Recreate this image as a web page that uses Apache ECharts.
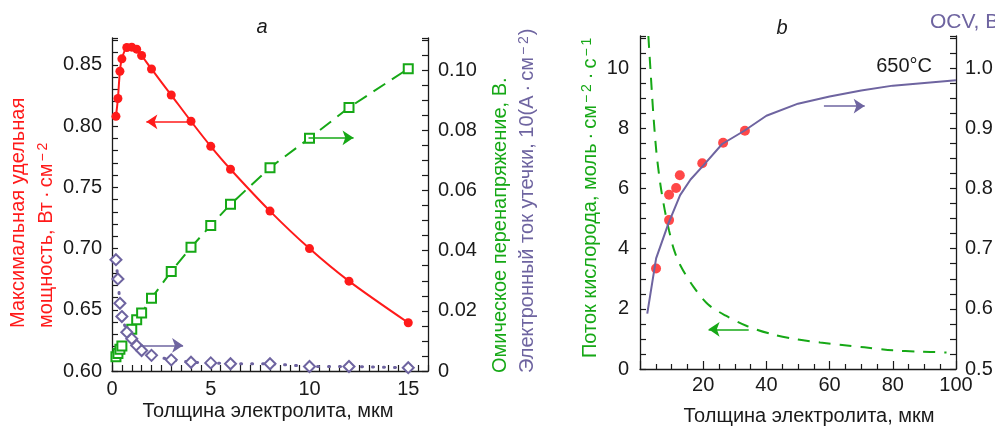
<!DOCTYPE html>
<html><head><meta charset="utf-8">
<script src="https://cdn.jsdelivr.net/npm/echarts@6/dist/echarts.min.js"></script>
<style>html,body{margin:0;padding:0;background:#fff}#c{width:995px;height:427px}</style>
</head><body><div id="c"></div>
<script>
// ---------- Panel a data ----------
const powerThickness = [0.2,0.3,0.4,0.5,0.75,1.0,1.25,1.5,2,3,4,5,6,8,10,12,15];
const maxPower       = [0.808,0.8226,0.8448,0.855,0.8642,0.8645,0.8629,0.8577,0.8467,0.8254,0.804,0.7835,0.7648,0.7306,0.700,0.6734,0.6394];
const ohmicThickness = [0.2,0.3,0.4,0.5,1.0,1.25,1.5,2,3,4,5,6,8,10,12,15];
const ohmicOverpot   = [0.0047,0.0058,0.0072,0.0083,0.0139,0.0170,0.0193,0.0242,0.0331,0.0411,0.0484,0.0554,0.0676,0.0774,0.0876,0.1005];
const leakThickness  = [0.2,0.3,0.4,0.5,0.75,1.0,1.25,1.5,2,3,4,5,6,8,10,12,15];
const leakCurrent    = [0.037,0.0306,0.0225,0.0181,0.0129,0.0107,0.0085,0.0068,0.0052,0.0037,0.0029,0.0027,0.0024,0.0024,0.0015,0.0015,0.0011];
// ---------- Panel b data ----------
const fluxThickness  = [2.65,3.4,4.2,5.2,6.5,7.8,9.2,10.8,13,17,21.5,27,34,42,50,57,64,71,80,88,97];
const oxygenFlux     = [11.07,9.8,8.5,7.2,6.1,5.3,4.6,3.95,3.4,2.72,2.15,1.78,1.42,1.15,0.98,0.88,0.8,0.72,0.62,0.58,0.55];
const ocvThickness   = [2.3,5.1,9.0,12.7,16,20,26,33,40,50,60,70,80,100];
const ocvCurve       = [0.592,0.684,0.742,0.789,0.815,0.838,0.874,0.896,0.921,0.941,0.953,0.963,0.971,0.980];
const ocvExpThick    = [5.08,9.2,9.2,11.43,12.6,19.7,26.3,33.2];
const ocvExp         = [0.667,0.7475,0.7895,0.801,0.822,0.842,0.876,0.896];
// ---------- Tick labels ----------
const powerTicks = [0.60,0.65,0.70,0.75,0.80,0.85];
const powerTickLabels = ['0.60','0.65','0.70','0.75','0.80','0.85'];
const rightATicks = [0,0.02,0.04,0.06,0.08,0.10];
const rightATickLabels = ['0','0.02','0.04','0.06','0.08','0.10'];
const xATicks = [0,5,10,15];
const xATickLabels = ['0','5','10','15'];
const xBTicks = [20,40,60,80,100];
const xBTickLabels = ['20','40','60','80','100'];
const fluxTicks = [0,2,4,6,8,10];
const fluxTickLabels = ['0','2','4','6','8','10'];
const ocvTicks = [0.5,0.6,0.7,0.8,0.9,1.0];
const ocvTickLabels = ['0.5','0.6','0.7','0.8','0.9','1.0'];
// ---------- Annotation arrows (data coords) ----------
const arrowPower = [[4.04,0.8035],[1.74,0.8035]];
const arrowOhmic = [[9.95,0.0775],[12.23,0.0775]];
const arrowLeak  = [[1.43,0.0085],[3.6,0.0085]];
const arrowFlux  = [[34.4,1.32],[21.7,1.32]];
const arrowOcv   = [[58.2,0.937],[71.1,0.937]];

const RED='#ff1a1a', GREEN='#16a816', PURPLE='#6e64a0', BLACK='#1a1a1a';
const FONT='"Liberation Sans", Arial, sans-serif';
const zip=(a,b)=>a.map((v,i)=>[v,b[i]]);
const fmt=(t,l)=>v=>{for(let i=0;i<t.length;i++){if(Math.abs(v-t[i])<1e-6)return l[i];}return '';};
const axisLine={lineStyle:{color:BLACK,width:1.3}};
const lbl=(f,m)=>({formatter:f,margin:m,fontSize:20,color:BLACK,fontFamily:FONT});
const tick=(len)=>({inside:true,length:len,lineStyle:{color:BLACK,width:1.2}});
const arrowML=(pts,color,sz)=>({silent:true,symbol:['none','arrow'],symbolSize:sz||11,label:{show:false},
  lineStyle:{color:color,width:1.5,type:'solid'},emphasis:{disabled:true},animation:false,
  data:[[{coord:pts[0]},{coord:pts[1]}]]});
const richT=(color)=>({n:{fontSize:20,fontFamily:FONT,fill:color,verticalAlign:'bottom'},
  s:{fontSize:14,fontFamily:FONT,fill:color,verticalAlign:'top',padding:[0,1,0,2]}});
const vtext=(x,y,text,color)=>({type:'text',x:x,y:y,rotation:Math.PI/2,
  style:{text:text,rich:richT(color),font:'20px '+FONT,fill:color,textAlign:'left',textVerticalAlign:'middle'}});

const chart=echarts.init(document.getElementById('c'),null,{renderer:'canvas'});
chart.setOption({
  animation:false,
  grid:[
    {left:112,right:567,top:38,bottom:56,outerBoundsMode:'none'},
    {left:640,right:39,top:36,bottom:58,outerBoundsMode:'none'}
  ],
  xAxis:[
    {type:'value',gridIndex:0,min:0,max:16,interval:0.5,axisLine:axisLine,axisTick:tick(6),
     splitLine:{show:false},axisLabel:lbl(fmt(xATicks,xATickLabels),8)},
    {type:'value',gridIndex:1,min:0,max:100,interval:20,axisLine:axisLine,axisTick:tick(8),
     minorTick:{show:true,splitNumber:4,length:5,lineStyle:{color:BLACK,width:1.2}},
     splitLine:{show:false},axisLabel:lbl(fmt(xBTicks,xBTickLabels),6)}
  ],
  yAxis:[
    {type:'value',gridIndex:0,position:'left',min:0.6,max:0.872,interval:0.01,axisLine:axisLine,axisTick:tick(6),
     splitLine:{show:false},axisLabel:lbl(fmt(powerTicks,powerTickLabels),10)},
    {type:'value',gridIndex:0,position:'right',min:0,max:0.1107,interval:0.005,axisLine:axisLine,axisTick:tick(6),
     splitLine:{show:false},axisLabel:lbl(fmt(rightATicks,rightATickLabels),10)},
    {type:'value',gridIndex:1,position:'left',min:0,max:11.07,interval:0.5,axisLine:axisLine,axisTick:tick(6),
     splitLine:{show:false},axisLabel:lbl(fmt(fluxTicks,fluxTickLabels),11)},
    {type:'value',gridIndex:1,position:'right',min:0.5,max:1.0535,interval:0.025,axisLine:axisLine,axisTick:tick(6),
     splitLine:{show:false},axisLabel:lbl(fmt(ocvTicks,ocvTickLabels),9)}
  ],
  series:[
    {type:'line',xAxisIndex:0,yAxisIndex:0,data:zip(powerThickness,maxPower),smooth:0.3,
     symbol:'circle',symbolSize:9,itemStyle:{color:RED},lineStyle:{color:RED,width:2},
     markLine:arrowML(arrowPower,RED)},
    {type:'line',xAxisIndex:0,yAxisIndex:1,data:zip(ohmicThickness,ohmicOverpot),
     symbol:'emptyRect',symbolSize:9,itemStyle:{color:GREEN,borderWidth:1.5},lineStyle:{color:GREEN,width:2,type:[14,8]},
     markLine:arrowML(arrowOhmic,GREEN)},
    {type:'line',xAxisIndex:0,yAxisIndex:1,data:zip(leakThickness,leakCurrent),
     symbol:'emptyDiamond',symbolSize:11,itemStyle:{color:PURPLE,borderWidth:1.3},lineStyle:{color:PURPLE,width:3,type:[1,10],cap:'round'},
     markLine:arrowML(arrowLeak,PURPLE)},
    {type:'line',xAxisIndex:1,yAxisIndex:2,data:zip(fluxThickness,oxygenFlux),smooth:0.3,showSymbol:false,
     lineStyle:{color:GREEN,width:2,type:[12,9]},itemStyle:{color:GREEN},
     markLine:arrowML(arrowFlux,GREEN)},
    {type:'line',xAxisIndex:1,yAxisIndex:3,data:zip(ocvThickness,ocvCurve),showSymbol:false,
     lineStyle:{color:PURPLE,width:2},itemStyle:{color:PURPLE},
     markLine:arrowML(arrowOcv,PURPLE)},
    {type:'scatter',xAxisIndex:1,yAxisIndex:3,data:zip(ocvExpThick,ocvExp),symbol:'circle',symbolSize:10,
     itemStyle:{color:RED}}
  ],
  graphic:[
    {type:'text',x:262,y:27,style:{text:'a',font:'italic 20px '+FONT,fill:BLACK,textAlign:'center',textVerticalAlign:'middle'}},
    {type:'text',x:782,y:28,style:{text:'b',font:'italic 20px '+FONT,fill:BLACK,textAlign:'center',textVerticalAlign:'middle'}},
    vtext(18,328,'{n|Максимальная удельная}',RED),
    vtext(46,328,'{n|мощность, Вт\u2009·\u2009см}{s|\u2212\u20092}',RED),
    vtext(500,373,'{n|Омическое перенапряжение, В.}',GREEN),
    vtext(527,373,'{n|Электронный ток утечки, 10(А\u2009·\u2009см}{s|\u2212\u20092}{n|)}',PURPLE),
    vtext(590,358,'{n|Поток кислорода, моль\u2009·\u2009см}{s|\u2212\u20092}{n|\u2009·\u2009с}{s|\u2212\u20091}',GREEN),
    {type:'text',x:930,y:22,style:{text:'OCV, В',font:'21px '+FONT,fill:PURPLE,textAlign:'left',textVerticalAlign:'middle'}},
    {type:'text',x:932,y:66,style:{text:'650°C',font:'20px '+FONT,fill:BLACK,textAlign:'right',textVerticalAlign:'middle'}},
    {type:'text',x:268,y:411,style:{text:'Толщина электролита, мкм',font:'20px '+FONT,fill:BLACK,textAlign:'center',textVerticalAlign:'middle'}},
    {type:'text',x:809,y:416,style:{text:'Толщина электролита, мкм',font:'20px '+FONT,fill:BLACK,textAlign:'center',textVerticalAlign:'middle'}}
  ]
});
</script></body></html>
